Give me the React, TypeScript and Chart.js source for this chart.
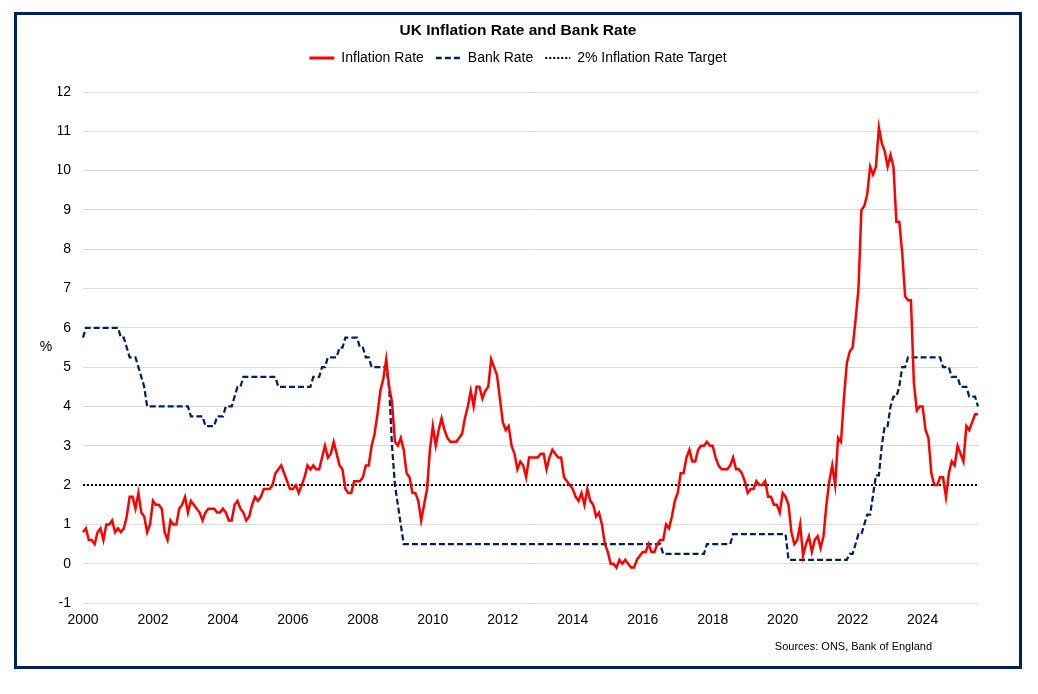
import React, { useEffect, useRef } from 'react';
import { Chart, registerables } from 'chart.js';

Chart.register(...registerables);

// monthly CPI annual rate, Jan 2000 - Aug 2025
const inflationRate = [
  0.8, 0.9, 0.6, 0.6, 0.5, 0.8, 0.9, 0.6, 1.0, 1.0, 1.1, 0.8, // 2000
  0.9, 0.8, 0.9, 1.2, 1.7, 1.7, 1.4, 1.8, 1.3, 1.2, 0.8, 1.0, // 2001
  1.6, 1.5, 1.5, 1.4, 0.8, 0.6, 1.1, 1.0, 1.0, 1.4, 1.5, 1.7, // 2002
  1.3, 1.6, 1.5, 1.4, 1.3, 1.1, 1.3, 1.4, 1.4, 1.4, 1.3, 1.3, // 2003
  1.4, 1.3, 1.1, 1.1, 1.5, 1.6, 1.4, 1.3, 1.1, 1.2, 1.5, 1.7, // 2004
  1.6, 1.7, 1.9, 1.9, 1.9, 2.0, 2.3, 2.4, 2.5, 2.3, 2.1, 1.9, // 2005
  1.9, 2.0, 1.8, 2.0, 2.2, 2.5, 2.4, 2.5, 2.4, 2.4, 2.7, 3.0, // 2006
  2.7, 2.8, 3.1, 2.8, 2.5, 2.4, 1.9, 1.8, 1.8, 2.1, 2.1, 2.1, // 2007
  2.2, 2.5, 2.5, 3.0, 3.3, 3.8, 4.4, 4.7, 5.2, 4.5, 4.1, 3.1, // 2008
  3.0, 3.2, 2.9, 2.3, 2.2, 1.8, 1.8, 1.6, 1.1, 1.5, 1.9, 2.9, // 2009
  3.5, 3.0, 3.4, 3.7, 3.4, 3.2, 3.1, 3.1, 3.1, 3.2, 3.3, 3.7, // 2010
  4.0, 4.4, 4.0, 4.5, 4.5, 4.2, 4.4, 4.5, 5.2, 5.0, 4.8, 4.2, // 2011
  3.6, 3.4, 3.5, 3.0, 2.8, 2.4, 2.6, 2.5, 2.2, 2.7, 2.7, 2.7, // 2012
  2.7, 2.8, 2.8, 2.4, 2.7, 2.9, 2.8, 2.7, 2.7, 2.2, 2.1, 2.0, // 2013
  1.9, 1.7, 1.6, 1.8, 1.5, 1.9, 1.6, 1.5, 1.2, 1.3, 1.0, 0.5, // 2014
  0.3, 0.0, 0.0, -0.1, 0.1, 0.0, 0.1, 0.0, -0.1, -0.1, 0.1, 0.2, // 2015
  0.3, 0.3, 0.5, 0.3, 0.3, 0.5, 0.6, 0.6, 1.0, 0.9, 1.2, 1.6, // 2016
  1.8, 2.3, 2.3, 2.7, 2.9, 2.6, 2.6, 2.9, 3.0, 3.0, 3.1, 3.0, // 2017
  3.0, 2.7, 2.5, 2.4, 2.4, 2.4, 2.5, 2.7, 2.4, 2.4, 2.3, 2.1, // 2018
  1.8, 1.9, 1.9, 2.1, 2.0, 2.0, 2.1, 1.7, 1.7, 1.5, 1.5, 1.3, // 2019
  1.8, 1.7, 1.5, 0.8, 0.5, 0.6, 1.0, 0.2, 0.5, 0.7, 0.3, 0.6, // 2020
  0.7, 0.4, 0.7, 1.5, 2.1, 2.5, 2.0, 3.2, 3.1, 4.2, 5.1, 5.4, // 2021
  5.5, 6.2, 7.0, 9.0, 9.1, 9.4, 10.1, 9.9, 10.1, 11.1, 10.7, 10.5, // 2022
  10.1, 10.4, 10.1, 8.7, 8.7, 7.9, 6.8, 6.7, 6.7, 4.6, 3.9, 4.0, // 2023
  4.0, 3.4, 3.2, 2.3, 2.0, 2.0, 2.2, 2.2, 1.7, 2.3, 2.6, 2.5, // 2024
  3.0, 2.8, 2.6, 3.5, 3.4, 3.6, 3.8, 3.8, // 2025
];

const bankRate = [
  5.75, 6, 6, 6, 6, 6, 6, 6, 6, 6, 6, 6, // 2000
  6, 5.75, 5.75, 5.5, 5.25, 5.25, 5.25, 5, 4.75, 4.5, 4, 4, // 2001
  4, 4, 4, 4, 4, 4, 4, 4, 4, 4, 4, 4, // 2002
  4, 3.75, 3.75, 3.75, 3.75, 3.75, 3.5, 3.5, 3.5, 3.5, 3.75, 3.75, // 2003
  3.75, 4, 4, 4, 4.25, 4.5, 4.5, 4.75, 4.75, 4.75, 4.75, 4.75, // 2004
  4.75, 4.75, 4.75, 4.75, 4.75, 4.75, 4.75, 4.5, 4.5, 4.5, 4.5, 4.5, // 2005
  4.5, 4.5, 4.5, 4.5, 4.5, 4.5, 4.5, 4.75, 4.75, 4.75, 5, 5, // 2006
  5.25, 5.25, 5.25, 5.25, 5.5, 5.5, 5.75, 5.75, 5.75, 5.75, 5.75, 5.5, // 2007
  5.5, 5.25, 5.25, 5, 5, 5, 5, 5, 5, 4.5, 3, 2, // 2008
  1.5, 1, 0.5, 0.5, 0.5, 0.5, 0.5, 0.5, 0.5, 0.5, 0.5, 0.5, // 2009
  0.5, 0.5, 0.5, 0.5, 0.5, 0.5, 0.5, 0.5, 0.5, 0.5, 0.5, 0.5, // 2010
  0.5, 0.5, 0.5, 0.5, 0.5, 0.5, 0.5, 0.5, 0.5, 0.5, 0.5, 0.5, // 2011
  0.5, 0.5, 0.5, 0.5, 0.5, 0.5, 0.5, 0.5, 0.5, 0.5, 0.5, 0.5, // 2012
  0.5, 0.5, 0.5, 0.5, 0.5, 0.5, 0.5, 0.5, 0.5, 0.5, 0.5, 0.5, // 2013
  0.5, 0.5, 0.5, 0.5, 0.5, 0.5, 0.5, 0.5, 0.5, 0.5, 0.5, 0.5, // 2014
  0.5, 0.5, 0.5, 0.5, 0.5, 0.5, 0.5, 0.5, 0.5, 0.5, 0.5, 0.5, // 2015
  0.5, 0.5, 0.5, 0.5, 0.5, 0.5, 0.5, 0.25, 0.25, 0.25, 0.25, 0.25, // 2016
  0.25, 0.25, 0.25, 0.25, 0.25, 0.25, 0.25, 0.25, 0.25, 0.25, 0.5, 0.5, // 2017
  0.5, 0.5, 0.5, 0.5, 0.5, 0.5, 0.5, 0.75, 0.75, 0.75, 0.75, 0.75, // 2018
  0.75, 0.75, 0.75, 0.75, 0.75, 0.75, 0.75, 0.75, 0.75, 0.75, 0.75, 0.75, // 2019
  0.75, 0.75, 0.1, 0.1, 0.1, 0.1, 0.1, 0.1, 0.1, 0.1, 0.1, 0.1, // 2020
  0.1, 0.1, 0.1, 0.1, 0.1, 0.1, 0.1, 0.1, 0.1, 0.1, 0.1, 0.25, // 2021
  0.25, 0.5, 0.75, 0.75, 1, 1.25, 1.25, 1.75, 2.25, 2.25, 3, 3.5, // 2022
  3.5, 4, 4.25, 4.25, 4.5, 5, 5, 5.25, 5.25, 5.25, 5.25, 5.25, // 2023
  5.25, 5.25, 5.25, 5.25, 5.25, 5.25, 5.25, 5, 5, 5, 4.75, 4.75, // 2024
  4.75, 4.5, 4.5, 4.5, 4.25, 4.25, 4.25, 4, // 2025
];

const inflationTarget = 2;
const startYear = 2000;
const yearTicks = ['2000', '2002', '2004', '2006', '2008', '2010', '2012', '2014', '2016', '2018', '2020', '2022', '2024'];

const months = inflationRate.map((_, i) => `${startYear + Math.floor(i / 12)}-${String((i % 12) + 1).padStart(2, '0')}`);

const FONT = '"Liberation Sans", Arial, sans-serif';
const NAVY = '#002060';

const extraText = {
  id: 'extraText',
  afterDraw(chart: any) {
    const { ctx, chartArea, scales } = chart;
    ctx.save();
    ctx.fillStyle = '#000';
    ctx.font = `14px ${FONT}`;
    ctx.textAlign = 'center';
    ctx.textBaseline = 'middle';
    ctx.fillText('%', chartArea.left - 37, scales.y.getPixelForValue(5.5));
    ctx.font = `11px ${FONT}`;
    ctx.textAlign = 'right';
    ctx.fillText('Sources: ONS, Bank of England', chartArea.right - 46, chartArea.bottom + 44);
    ctx.restore();
  },
};

// legend samples take the dataset's line style (dash, width) rather than the point style
const legendLabels = (chart: any) => {
  const items = Chart.defaults.plugins.legend.labels.generateLabels(chart);
  items.forEach((item: any, i: number) => {
    const ds: any = chart.data.datasets[i];
    item.pointStyle = 'line';
    item.strokeStyle = ds.borderColor;
    item.lineWidth = ds.legendWidth;
    item.lineDash = ds.borderDash || [];
    item.lineCap = 'butt';
  });
  return items;
};

const InflationChart = () => {
  const canvasRef = useRef<HTMLCanvasElement>(null);

  useEffect(() => {
    if (!canvasRef.current) return;
    const chart = new Chart(canvasRef.current, {
      type: 'line',
      data: {
        labels: months,
        datasets: [
          {
            label: 'Inflation Rate',
            data: inflationRate,
            borderColor: '#ff0000',
            backgroundColor: '#ff0000',
            borderWidth: 2.5,
            legendWidth: 3,
            pointRadius: 0,
          },
          {
            label: 'Bank Rate',
            data: bankRate,
            borderColor: NAVY,
            backgroundColor: NAVY,
            borderWidth: 2.25,
            legendWidth: 2.5,
            borderDash: [6, 3],
            pointRadius: 0,
          },
          {
            label: '2% Inflation Rate Target',
            data: months.map(() => inflationTarget),
            borderColor: '#000',
            backgroundColor: '#000',
            borderWidth: 2,
            legendWidth: 2,
            borderDash: [2, 2],
            pointRadius: 0,
          },
        ],
      },
      options: {
        responsive: false,
        animation: false,
        layout: { padding: { left: 41, right: 41, top: 0, bottom: 33 } },
        plugins: {
          title: {
            display: true,
            text: 'UK Inflation Rate and Bank Rate',
            color: '#000',
            font: { family: FONT, size: 15.5, weight: 'bold', lineHeight: 1 },
            padding: { top: 8.25, bottom: 0.25 },
          },
          legend: {
            display: true,
            position: 'top',
            labels: {
              color: '#000',
              font: { family: FONT, size: 14 },
              usePointStyle: true,
              pointStyle: 'line',
              pointStyleWidth: 25,
              boxWidth: 25,
              padding: 12,
              generateLabels: legendLabels,
            },
          },
          // empty block that spaces the legend from the plot
          subtitle: {
            display: true,
            text: '',
            position: 'top',
            weight: 500,
            font: { size: 10, lineHeight: 1 },
            padding: { top: 7, bottom: 0 },
          },
          tooltip: { enabled: false },
        },
        scales: {
          x: {
            offset: false,
            grid: { display: false },
            border: { display: false },
            afterFit: (scale: any) => { scale.height = 30; },
            ticks: {
              autoSkip: false,
              maxRotation: 0,
              padding: 1,
              color: '#000',
              font: { family: FONT, size: 14 },
              callback: (_v: any, i: number) => (i % 24 === 0 ? yearTicks[i / 24] : null),
            },
          },
          y: {
            min: -1,
            max: 12,
            afterFit: (scale: any) => { scale.width = 25; },
            grid: { color: '#d9d9d9', lineWidth: 1, drawTicks: false },
            border: { display: false },
            ticks: {
              stepSize: 1,
              padding: 12,
              color: '#000',
              font: { family: FONT, size: 14 },
            },
          },
        },
      },
      plugins: [extraText],
    } as any);

    return () => {
      chart.destroy();
    };
  }, []);

  return <canvas ref={canvasRef} width={1002} height={651} style={{ display: 'block' }} />;
};

export default function App() {
  return (
    <div style={{ position: 'absolute', left: 0, top: 0, width: 1038, height: 694, background: '#fff' }}>
      <div
        style={{
          position: 'absolute',
          left: 14,
          top: 12,
          width: 1008,
          height: 657,
          border: `3px solid ${NAVY}`,
          boxSizing: 'border-box',
          background: '#fff',
        }}
      >
        <InflationChart />
      </div>
    </div>
  );
}
